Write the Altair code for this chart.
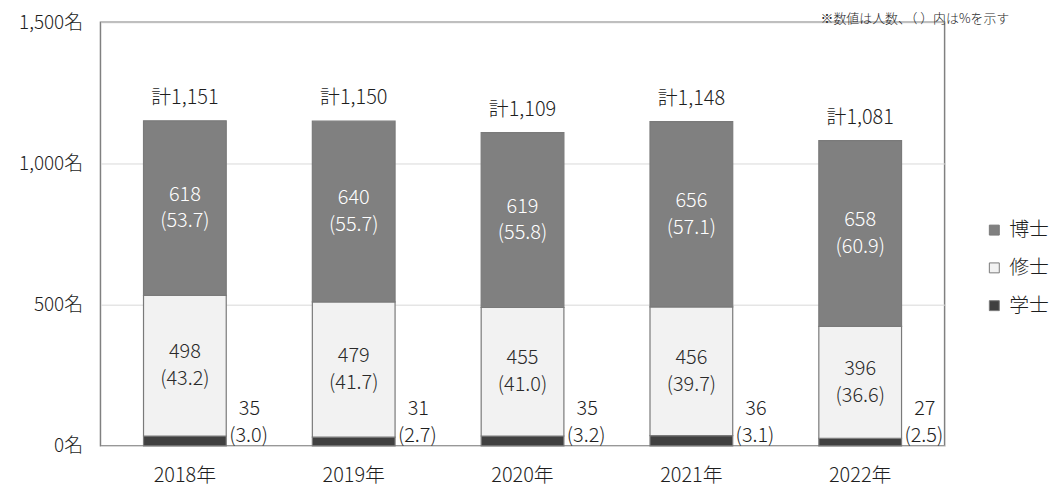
import altair as alt
import pandas as pd

years = ["2018年", "2019年", "2020年", "2021年", "2022年"]
totals = [1151, 1150, 1109, 1148, 1081]
hakase = [618, 640, 619, 656, 658]
shushi = [498, 479, 455, 456, 396]
gakushi = [35, 31, 35, 36, 27]
hakase_pct = ["53.7", "55.7", "55.8", "57.1", "60.9"]
shushi_pct = ["43.2", "41.7", "41.0", "39.7", "36.6"]
gakushi_pct = ["3.0", "2.7", "3.2", "3.1", "2.5"]
degrees = ["博士", "修士", "学士"]
colors = ["#808080", "#f2f2f2", "#404040"]
y_ticks = [0, 500, 1000, 1500]
note = "※数値は人数、（ ）内は%を示す"

FONT = "Noto Sans CJK JP"
TXT = "#1e1e1e"

rows = []
for i, yr in enumerate(years):
    segs = [("学士", gakushi[i], gakushi_pct[i]),
            ("修士", shushi[i], shushi_pct[i]),
            ("博士", hakase[i], hakase_pct[i])]
    start = 0
    for name, v, p in segs:
        rows.append({"year": yr, "degree": name, "start": start, "end": start + v,
                     "mid": start + v / 2, "val": f"{v}", "pct": f"({p})"})
        start += v
df = pd.DataFrame(rows)
tot_df = pd.DataFrame({"year": years, "total": totals,
                       "label": [f"計{t:,}" for t in totals]})

x_enc = alt.X("year:N", sort=years, title=None,
              scale=alt.Scale(paddingInner=0.51, paddingOuter=0.255),
              axis=alt.Axis(labelAngle=0, labelFontSize=20, labelColor=TXT,
                            labelFont=FONT, labelFontWeight=300, ticks=False,
                            domainColor="#d9d9d9", labelPadding=20))
y_scale = alt.Scale(domain=[0, 1500])

bars = alt.Chart(df).mark_bar(stroke="#7a7a7a", strokeWidth=1.2).encode(
    x=x_enc,
    y=alt.Y("start:Q", scale=y_scale, title=None,
            axis=alt.Axis(values=y_ticks, labelExpr="format(datum.value, ',') + '名'",
                          labelFontSize=19, labelColor=TXT, labelFont=FONT,
                          labelFontWeight=300,
                          ticks=False, domain=False, gridColor="#d9d9d9",
                          labelPadding=18)),
    y2="end:Q",
    color=alt.Color("degree:N", sort=degrees,
                    scale=alt.Scale(domain=degrees, range=colors),
                    legend=alt.Legend(title=None, orient="none", legendX=889, legendY=199,
                                      symbolType="square", symbolSize=100,
                                      symbolStrokeColor="#7a7a7a", symbolStrokeWidth=1,
                                      labelFontSize=20, labelFont=FONT,
                                      labelFontWeight=300,
                                      labelColor=TXT, rowPadding=18,
                                      labelOffset=5)),
)

inner_df = df[df.degree != "学士"]
inner_color = alt.condition(alt.datum.degree == "博士", alt.value("#ffffff"),
                            alt.value("#2a2a2a"))
inner_val = alt.Chart(inner_df).mark_text(
    font=FONT, fontSize=20, fontWeight=300, baseline="middle", dy=-13.5
).encode(
    x=alt.X("year:N", sort=years),
    y=alt.Y("mid:Q", scale=y_scale),
    text="val:N",
    color=inner_color,
)
inner_pct = alt.Chart(inner_df).mark_text(
    font=FONT, fontSize=20, fontWeight=300, baseline="middle", dy=13.5
).encode(
    x=alt.X("year:N", sort=years),
    y=alt.Y("mid:Q", scale=y_scale),
    text="pct:N",
    color=inner_color,
)

outer_df = df[df.degree == "学士"]
outer_val = alt.Chart(outer_df).mark_text(
    font=FONT, fontSize=20, fontWeight=300, baseline="middle", dx=65, dy=-37,
    color=TXT
).encode(
    x=alt.X("year:N", sort=years),
    y=alt.Y("start:Q", scale=y_scale),
    text="val:N",
)
outer_pct = alt.Chart(outer_df).mark_text(
    font=FONT, fontSize=20, fontWeight=300, baseline="middle", dx=64, dy=-10,
    color=TXT
).encode(
    x=alt.X("year:N", sort=years),
    y=alt.Y("start:Q", scale=y_scale),
    text="pct:N",
)

tot = alt.Chart(tot_df).mark_text(
    font=FONT, fontSize=20, fontWeight=300, baseline="bottom", dy=-13, color=TXT
).encode(
    x=alt.X("year:N", sort=years),
    y=alt.Y("total:Q", scale=y_scale),
    text="label:N",
)

note_mark = alt.Chart(pd.DataFrame({"t": [note]})).mark_text(
    font=FONT, fontSize=13, fontWeight=300, align="right", baseline="top", color=TXT
).encode(x=alt.value(914), y=alt.value(-9), text="t:N")

chart = alt.layer(bars, inner_val, inner_pct, outer_val, outer_pct, tot,
                  note_mark).properties(
    width=849, height=426,
    autosize=alt.AutoSizeParams(type="none"),
    padding={"left": 93, "top": 13, "right": 105, "bottom": 40},
).configure_view(stroke="#808080", strokeWidth=1.5)

chart.save("out.html", embed_options={"renderer": "svg", "actions": False})
